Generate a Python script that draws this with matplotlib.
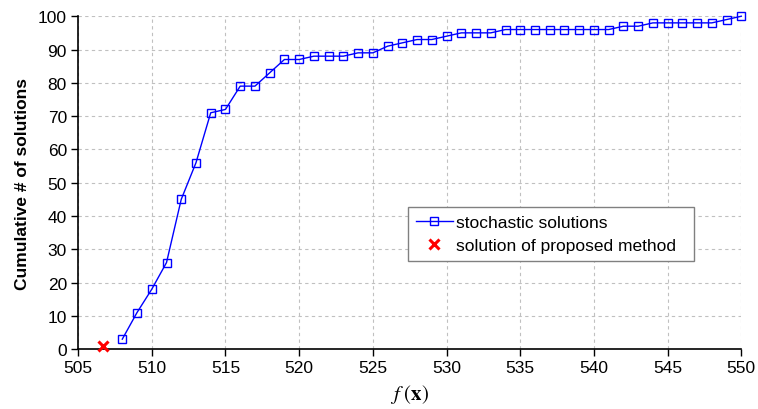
import matplotlib

matplotlib.use("Agg")
import matplotlib.pyplot as plt

plt.rcParams["font.family"] = ["Liberation Sans", "DejaVu Sans"]
plt.rcParams["mathtext.fontset"] = "stix"

# cumulative count of stochastic solutions vs objective value
fx = list(range(508, 551))
cum_count = [3, 11, 18, 26, 45, 56, 71, 72, 79, 79, 83, 87, 87, 88, 88, 88,
             89, 89, 91, 92, 93, 93, 94, 95, 95, 95, 96, 96, 96, 96, 96, 96,
             96, 96, 97, 97, 98, 98, 98, 98, 98, 99, 100]
proposed_fx = [506.7]
proposed_count = [1]

x_ticks = list(range(505, 551, 5))
y_ticks = list(range(0, 101, 10))

BLUE = "#0000ff"
RED = "#ff0000"
GRID = "#c0c0c0"
FS = 12.5

fig = plt.figure(figsize=(7.58, 4.10), dpi=100)
ax = fig.add_axes([0.103, 0.146, 0.875, 0.812])

ax.plot(fx, cum_count, color=BLUE, lw=1.0, marker="s", ms=6.2,
        mfc="none", mec=BLUE, mew=1.0, label="stochastic solutions",
        clip_on=False, zorder=3)
ax.plot(proposed_fx, proposed_count, ls="none", marker="x", ms=7,
        mew=2.2, color=RED, label="solution of proposed method",
        clip_on=False, zorder=4)

ax.set_xlim(505, 550)
ax.set_ylim(0, 100)
ax.set_xticks(x_ticks)
ax.set_yticks(y_ticks)
ax.tick_params(labelsize=FS, direction="out", length=5, width=1,
               color="black", pad=3)
ax.grid(True, color=GRID, ls=(0, (3, 3)), lw=0.8)
ax.set_axisbelow(True)
for s in ("top", "right"):
    ax.spines[s].set_visible(False)
for s in ("left", "bottom"):
    ax.spines[s].set_linewidth(1.2)

ax.set_ylabel("Cumulative # of solutions", fontsize=FS, fontweight="bold",
              labelpad=6)
ax.set_xlabel(r"$f\ (\mathbf{x})$", fontsize=15, labelpad=5)

leg = ax.legend(loc="lower left", bbox_to_anchor=(0.498, 0.264, 0.431, 0.16),
                mode="expand", fontsize=FS, fancybox=False, framealpha=1,
                edgecolor="#808080", handlelength=2.1, handletextpad=0.2,
                borderaxespad=0, borderpad=0.45, labelspacing=0.5)
leg.get_frame().set_linewidth(1.0)

fig.savefig("out.png", dpi=100)
